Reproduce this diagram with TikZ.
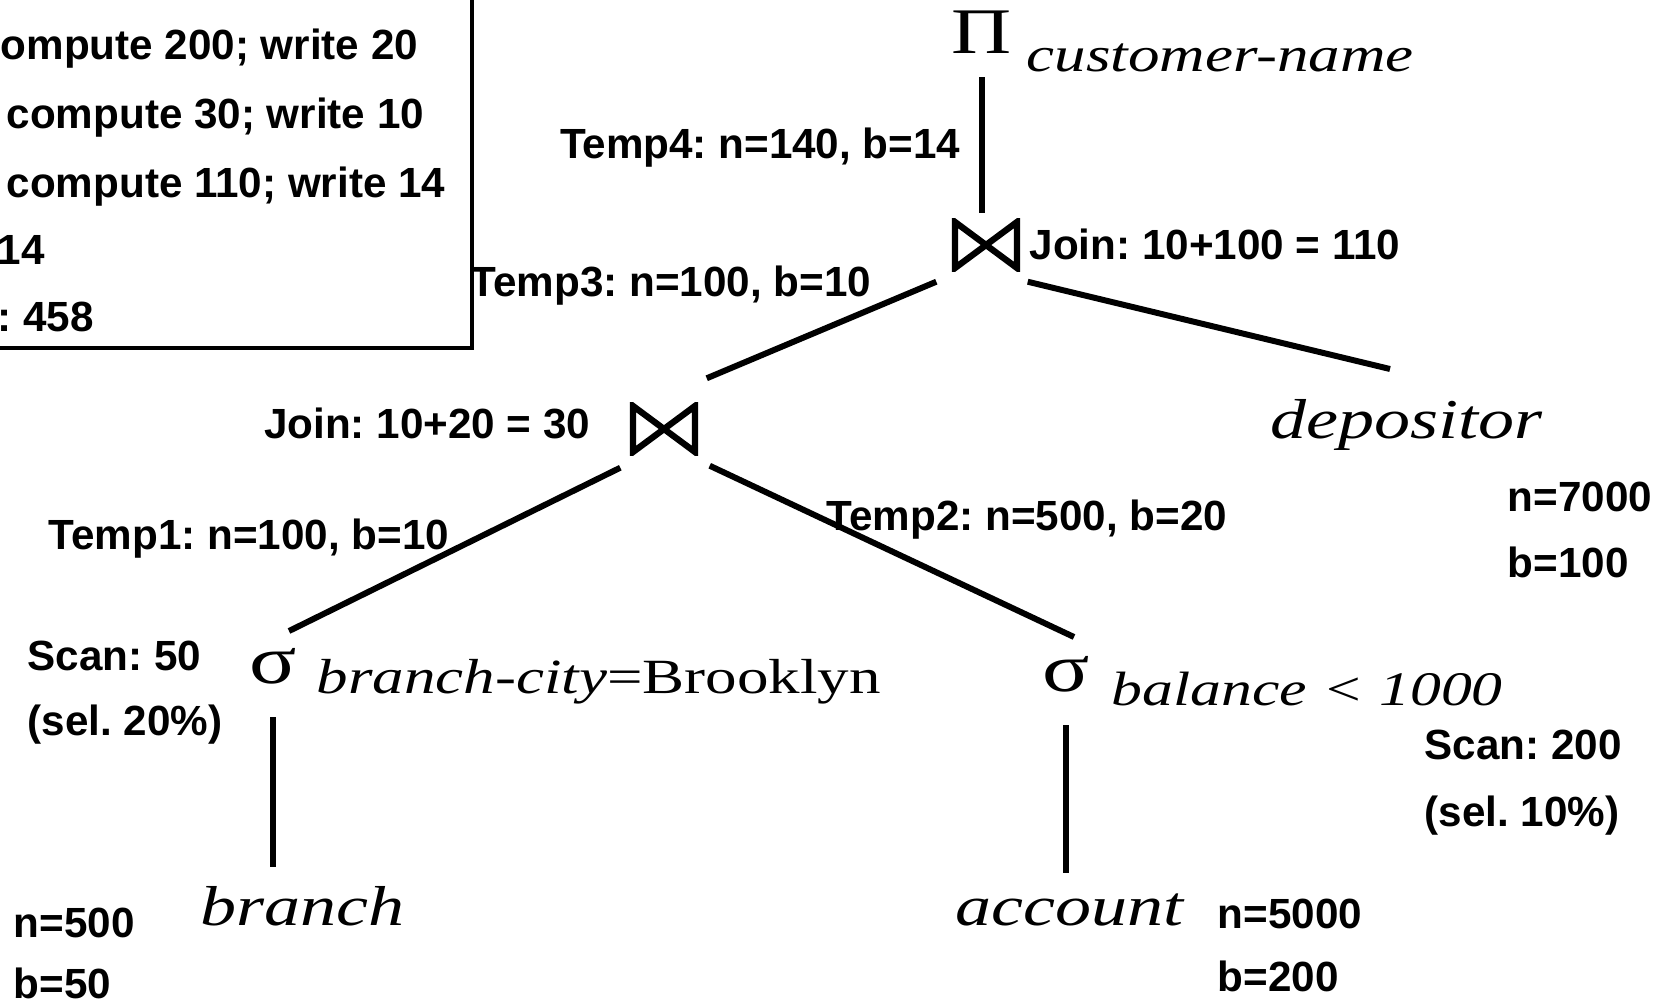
\documentclass[tikz,border=0pt]{standalone}
\usepackage{fontspec}
\setmainfont{Liberation Serif}
\setsansfont{Liberation Sans}
\newfontfamily\widefont[FakeStretch=1.28]{Liberation Serif}
\frenchspacing
\tikzset{
  lbl/.style={font=\fontsize{12}{14}\selectfont\sffamily\bfseries, inner sep=0pt, anchor=base west},
  rel/.style={font=\fontsize{16}{20}\selectfont\widefont\itshape, inner sep=0pt, anchor=base west},
  pred/.style={font=\fontsize{14}{18}\selectfont\widefont, inner sep=0pt, anchor=base west},
  op/.style={font=\fontsize{19.5}{22}\selectfont\widefont, inner sep=0pt, anchor=base},
  joinop/.style={minimum width=0.68cm, minimum height=0.52cm, inner sep=0pt,
    path picture={\draw[line width=1.8pt]
      ([shift={(0.03cm,-0.03cm)}]path picture bounding box.north west) --
      ([shift={(0.03cm,0.03cm)}]path picture bounding box.south west) --
      ([shift={(-0.03cm,-0.03cm)}]path picture bounding box.north east) --
      ([shift={(-0.03cm,0.03cm)}]path picture bounding box.south east) -- cycle;}},
  link/.style={line width=1.7pt}
}
\begin{document}
\begin{tikzpicture}[x=0.01cm,y=-0.01cm]
  \useasboundingbox (0,0) rectangle (1664,1006);
  \draw[line width=1.4pt] (-20,-20) rectangle (472,348);
  \node[lbl] (c1) at (0,59) {ompute 200; write 20};
  \node[lbl] (c2) at (6,128) {compute 30; write 10};
  \node[lbl] (c3) at (6,197) {compute 110; write 14};
  \node[lbl] (c4) at (-3,264) {14};
  \node[lbl] (c5) at (-3,331) {: 458};

  \node[op, font=\fontsize{18.5}{22}\selectfont\widefont] (pi) at (982,53) {Π};
  \node[pred, font=\fontsize{14}{18}\selectfont\widefont\itshape] (pisub) at (1026,71) {customer-name};
  \node[joinop] (j1) at (986,245) {};
  \node[lbl] (j1cost) at (1029,259) {Join: 10+100 = 110};
  \node[lbl, anchor=base east] (t4) at (961,158) {Temp4: n=140, b=14};
  \node[lbl] (t3) at (470,296) {Temp3: n=100, b=10};
  \node[rel] (dep) at (1270,438) {depositor};
  \node[lbl] (depn) at (1507,511) {n=7000};
  \node[lbl] (depb) at (1507,577) {b=100};
  \node[joinop] (j2) at (664,429) {};
  \node[lbl, anchor=base east] (j2cost) at (591,438) {Join: 10+20 = 30};
  \node[lbl] (t1) at (48,549) {Temp1: n=100, b=10};
  \node[lbl] (t2) at (826,530) {Temp2: n=500, b=20};
  \node[op] (s1) at (273,683) {σ};
  \node[pred] (s1sub) at (316,693) {\textit{branch-city}=Brooklyn};
  \node[lbl] (scan1) at (27,670) {Scan: 50};
  \node[lbl] (sel1) at (27,735) {(sel. 20\%)};
  \node[rel] (br) at (200,925) {branch};
  \node[lbl] (brn) at (13,937) {n=500};
  \node[lbl] (brb) at (13,998) {b=50};
  \node[op] (s2) at (1066,691) {σ};
  \node[pred, font=\fontsize{13.7}{18}\selectfont\widefont\itshape] (s2sub) at (1111,705) {balance < 1000};
  \node[rel] (acc) at (955,925) {account};
  \node[lbl] (accn) at (1217,928) {n=5000};
  \node[lbl] (accb) at (1217,991) {b=200};
  \node[lbl] (scan2) at (1424,759) {Scan: 200};
  \node[lbl] (sel2) at (1424,826) {(sel. 10\%)};

  \draw[link] ([shift={(0,24)}]pi.base) -- ([shift={(-4,-5)}]j1.north);
  \draw[link] ([shift={(-15,10)}]j1.south west) -- ([shift={(8,-24)}]j2.north east);
  \draw[link] ([shift={(7,10)}]j1.south east) -- ([shift={(120,-69)}]dep.base west);
  \draw[link] ([shift={(-9,12)}]j2.south west) -- ([shift={(16,-52)}]s1.base);
  \draw[link] ([shift={(11,10)}]j2.south east) -- ([shift={(8,-54)}]s2.base);
  \draw[link] ([shift={(0,34)}]s1.base) -- ([shift={(73,-58)}]br.base west);
  \draw[link] ([shift={(0,34)}]s2.base) -- ([shift={(111,-52)}]acc.base west);
\end{tikzpicture}
\end{document}
